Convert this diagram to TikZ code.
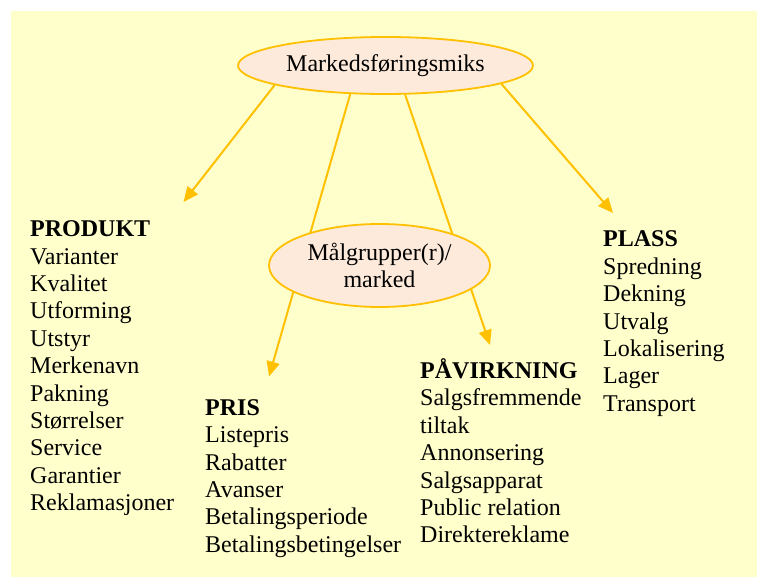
\documentclass[tikz,border=0pt]{standalone}
\usepackage{fontspec}
\setmainfont{Liberation Serif}
\usetikzlibrary{arrows.meta,shapes.geometric}
\definecolor{paper}{HTML}{FFFFCC}
\definecolor{gold}{HTML}{FFC000}
\definecolor{peach}{HTML}{FDEADA}
\pgfdeclarelayer{paperlayer}
\pgfdeclarelayer{linklayer}
\pgfsetlayers{paperlayer,linklayer,main}
\begin{document}
\begin{tikzpicture}[x=1pt,y=-1pt,
  txt/.style={font=\fontsize{24}{27.4}\selectfont},
  hub/.style={ellipse, draw=gold, fill=peach, line width=1.8pt, inner sep=0pt, txt, align=center},
  list/.style={txt, anchor=north west, inner sep=0pt, align=left},
  link/.style={draw=gold, line width=2pt, -{Triangle[length=15pt,width=13pt]}}]
\useasboundingbox (0,0) rectangle (757,577);
\begin{pgfonlayer}{paperlayer}
  \fill[paper] (11,11) rectangle (757,577);
\end{pgfonlayer}

% the two ellipses
\node[hub, minimum width=295pt, minimum height=57pt] (mix) at (385.5,65.5) {Markedsføringsmiks};
\node[hub, minimum width=221pt, minimum height=83pt] (target) at (379.5,265.5) {Målgrupper(r)/\\marked};

% the four lists
\node[list] (produkt) at (30,214.5) {\rule{0pt}{22pt}\textbf{PRODUKT}\\Varianter\\Kvalitet\\Utforming\\Utstyr\\Merkenavn\\Pakning\\Størrelser\\Service\\Garantier\\Reklamasjoner};
\node[list] (pris) at (205,393) {\rule{0pt}{22pt}\textbf{PRIS}\\Listepris\\Rabatter\\Avanser\\Betalingsperiode\\Betalingsbetingelser};
\node[list] (pavirkning) at (420,356.3) {\rule{0pt}{22pt}\textbf{PÅVIRKNING}\\Salgsfremmende\\tiltak\\Annonsering\\Salgsapparat\\Public relation\\Direktereklame};
\node[list] (plass) at (603,224.7) {\rule{0pt}{22pt}\textbf{PLASS}\\Spredning\\Dekning\\Utvalg\\Lokalisering\\Lager\\Transport};

% arrow tips above each list
\coordinate (tipProdukt) at (183.5,202);
\coordinate (tipPris) at (269,376.5);
\coordinate (tipPavirkning) at (490,345);
\coordinate (tipPlass) at (613,213);

\begin{pgfonlayer}{linklayer}
  \draw[link] (mix.190.2) -- (tipProdukt);
  \draw[link] (mix.219.3) -- (tipPris);
  \draw[link] (mix.304.6) -- (tipPavirkning);
  \draw[link] (mix.351.7) -- (tipPlass);
\end{pgfonlayer}
\end{tikzpicture}
\end{document}
